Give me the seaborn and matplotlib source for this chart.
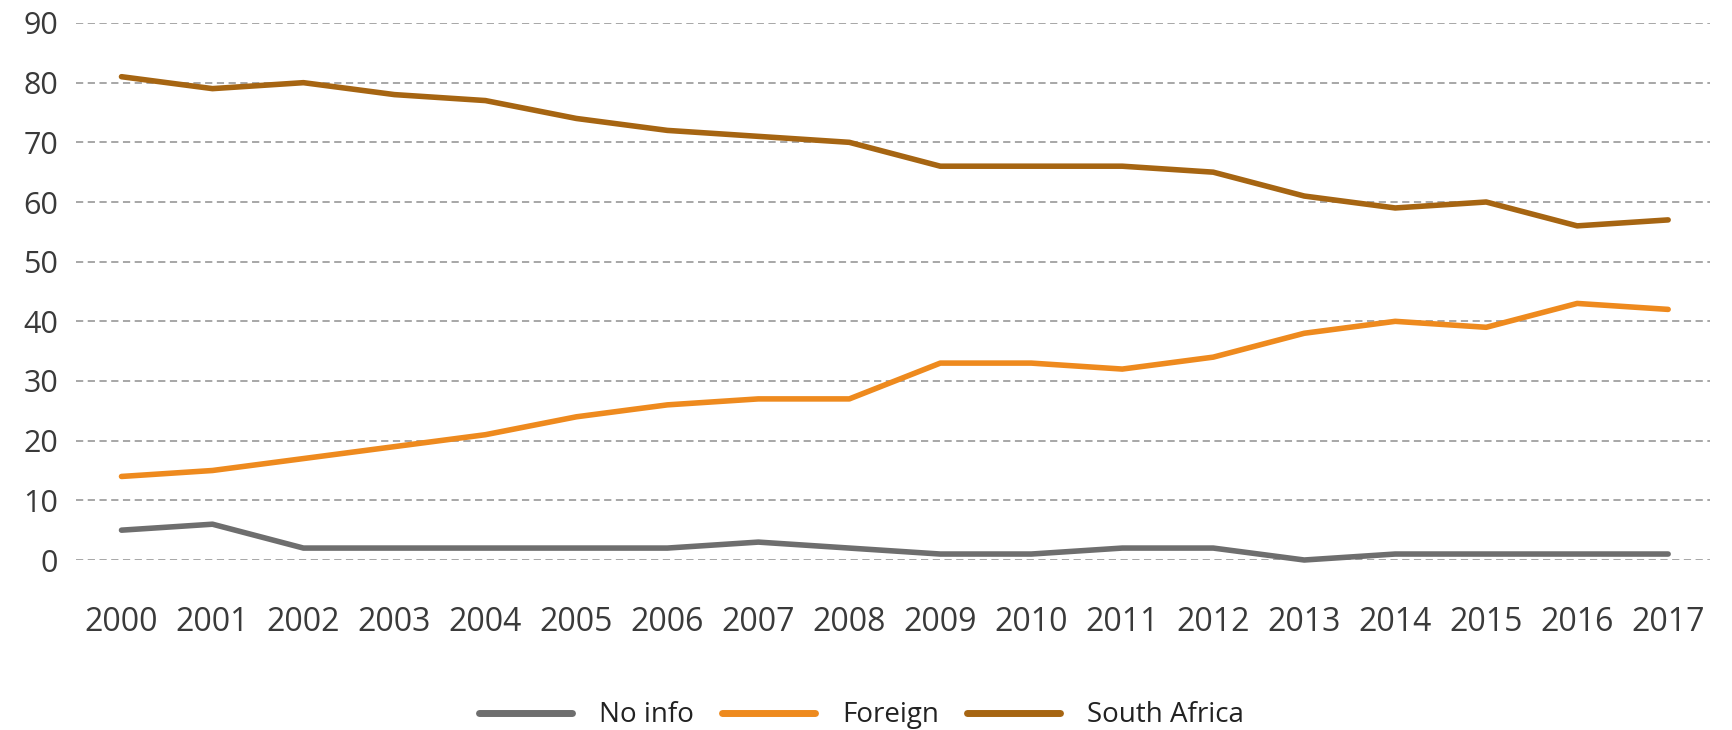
import matplotlib
matplotlib.use("Agg")
import matplotlib.pyplot as plt
import seaborn as sns
import pandas as pd
from matplotlib.lines import Line2D

years = list(range(2000, 2018))
no_info = [5, 6, 2, 2, 2, 2, 2, 3, 2, 1, 1, 2, 2, 0, 1, 1, 1, 1]
foreign = [14, 15, 17, 19, 21, 24, 26, 27, 27, 33, 33, 32, 34, 38, 40, 39, 43, 42]
south_africa = [81, 79, 80, 78, 77, 74, 72, 71, 70, 66, 66, 66, 65, 61, 59, 60, 56, 57]
series_names = ["No info", "Foreign", "South Africa"]
colors = ["#6E6E6E", "#EE8A1E", "#A66512"]

df = pd.DataFrame({
    "year": years * 3,
    "value": no_info + foreign + south_africa,
    "series": [series_names[0]] * len(years) + [series_names[1]] * len(years) + [series_names[2]] * len(years),
})

sns.set_theme(style="white")
plt.rcParams["font.family"] = ["Open Sans", "DejaVu Sans"]

fig = plt.figure(figsize=(17.32, 7.3), dpi=100)
ax = fig.add_axes([76 / 1732, 1 - 560 / 730, (1710 - 76) / 1732, (560 - 23) / 730])

sns.lineplot(data=df, x="year", y="value", hue="series", hue_order=series_names,
             palette=dict(zip(series_names, colors)), linewidth=4.0, ax=ax,
             legend=False, clip_on=False, zorder=3)

ax.set_xlim(1999.5, 2017.46)
ax.set_ylim(0, 90)
ax.set_yticks(range(0, 91, 10))
ax.set_xticks(years)
ax.set_xticklabels([str(y) for y in years])
ax.grid(axis="y", color="#A0A0A0", linestyle=(0, (4, 2.5)), linewidth=1.3)
ax.grid(axis="x", visible=False)
for s in ax.spines.values():
    s.set_visible(False)
ax.tick_params(axis="y", length=0, pad=13, labelsize=22, labelcolor="#3A3A3A")
ax.tick_params(axis="x", length=0, pad=33, labelsize=23, labelcolor="#3A3A3A")
ax.set_xlabel("")
ax.set_ylabel("")

handles = [Line2D([], [], color=c, linewidth=5) for c in colors]
leg = fig.legend(handles, series_names, loc="lower center", bbox_to_anchor=(0.4974, -0.022),
                 ncol=3, frameon=False, handlelength=3.35, handletextpad=0.97,
                 columnspacing=1.0, labelcolor="#222222", borderpad=0.1,
                 prop={"size": 20})

fig.savefig("out.png", dpi=100)
